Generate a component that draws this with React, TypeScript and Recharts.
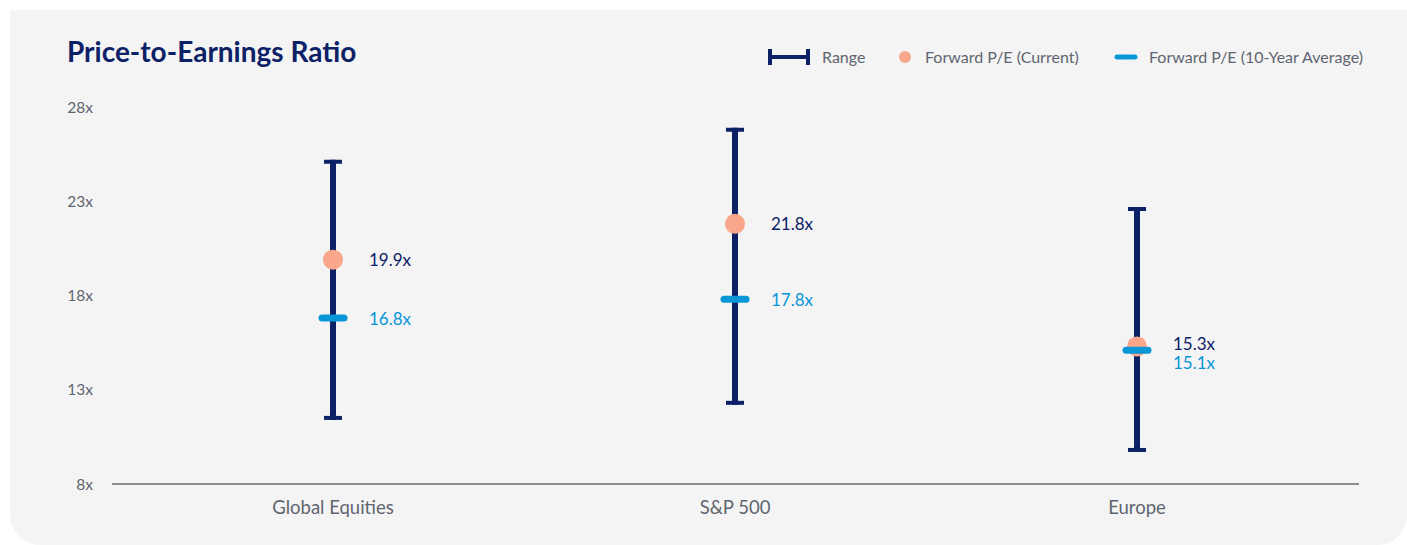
import React from 'react';
import { ComposedChart, Bar, Line, XAxis, YAxis } from 'recharts';

// ---------------------------------------------------------------------------
// Data
// ---------------------------------------------------------------------------

const categories = ['Global Equities', 'S&P 500', 'Europe'];
const rangeLow = [11.4, 12.2, 9.7];
const rangeHigh = [25.2, 26.9, 22.7];
const currentPE = [19.9, 21.8, 15.3];
const averagePE = [16.8, 17.8, 15.1];
const yTicks = [8, 13, 18, 23, 28];

const data = categories.map((name, i) => ({
  name,
  range: [rangeLow[i], rangeHigh[i]],
  current: currentPE[i],
  average: averagePE[i],
}));

// ---------------------------------------------------------------------------
// Colours
// ---------------------------------------------------------------------------

const NAVY = '#0c2166';
const SALMON = '#f9a68b';
const BLUE = '#0896d7';
const MUTED = '#5f6570';
const PANEL = '#f4f4f4';
const FONT = 'Lato, "Noto Sans", sans-serif';

const fmt = (v: number) => `${v.toFixed(1)}x`;

// when current and average sit close together, nudge the labels apart
function labelOffsets(i: number) {
  const close = Math.abs(currentPE[i] - averagePE[i]) < 1;
  return close ? { current: -3, average: 12 } : { current: 0, average: 0 };
}

// ---------------------------------------------------------------------------
// Marks
// ---------------------------------------------------------------------------

function RangeShape(props: any) {
  const { x, y, width, height } = props;
  const cx = x + width / 2;
  const top = Math.min(y, y + height);
  const bottom = Math.max(y, y + height);
  return (
    <g>
      <line x1={cx} x2={cx} y1={top} y2={bottom} stroke={NAVY} strokeWidth={6} />
      <line x1={cx - 9} x2={cx + 9} y1={top + 2} y2={top + 2} stroke={NAVY} strokeWidth={4} />
      <line x1={cx - 9} x2={cx + 9} y1={bottom - 2} y2={bottom - 2} stroke={NAVY} strokeWidth={4} />
    </g>
  );
}

function CurrentDot(props: any) {
  const { cx, cy, index, value } = props;
  if (cx == null || cy == null) return null;
  const off = labelOffsets(index).current;
  return (
    <g key={`cur-${index}`}>
      <circle cx={cx} cy={cy} r={10} fill={SALMON} />
      <text
        x={cx + 36}
        y={cy + off}
        dominantBaseline="central"
        fill={NAVY}
        fontSize={17}
        fontFamily={FONT}
      >
        {fmt(value)}
      </text>
    </g>
  );
}

function AverageDash(props: any) {
  const { cx, cy, index, value } = props;
  if (cx == null || cy == null) return null;
  const off = labelOffsets(index).average;
  return (
    <g key={`avg-${index}`}>
      <line
        x1={cx - 11}
        x2={cx + 11}
        y1={cy}
        y2={cy}
        stroke={BLUE}
        strokeWidth={7}
        strokeLinecap="round"
      />
      <text
        x={cx + 36}
        y={cy + off}
        dominantBaseline="central"
        fill={BLUE}
        fontSize={17}
        fontFamily={FONT}
      >
        {fmt(value)}
      </text>
    </g>
  );
}

// ---------------------------------------------------------------------------
// Legend
// ---------------------------------------------------------------------------

const legendText: React.CSSProperties = {
  position: 'absolute',
  top: 37,
  fontSize: 16,
  color: MUTED,
  fontFamily: FONT,
  lineHeight: '20px',
  whiteSpace: 'nowrap',
};

function Legend() {
  return (
    <>
      <svg style={{ position: 'absolute', left: 758, top: 38 }} width={42} height={18}>
        <line x1={0} x2={42} y1={9} y2={9} stroke={NAVY} strokeWidth={4} />
        <line x1={2} x2={2} y1={1} y2={17} stroke={NAVY} strokeWidth={4} />
        <line x1={40} x2={40} y1={1} y2={17} stroke={NAVY} strokeWidth={4} />
      </svg>
      <span style={{ ...legendText, left: 812 }}>Range</span>
      <svg style={{ position: 'absolute', left: 889, top: 41 }} width={12} height={12}>
        <circle cx={6} cy={6} r={6} fill={SALMON} />
      </svg>
      <span style={{ ...legendText, left: 915 }}>Forward P/E (Current)</span>
      <svg style={{ position: 'absolute', left: 1104, top: 42 }} width={24} height={10}>
        <line x1={3} x2={21} y1={5} y2={5} stroke={BLUE} strokeWidth={5} strokeLinecap="round" />
      </svg>
      <span style={{ ...legendText, left: 1139 }}>Forward P/E (10-Year Average)</span>
    </>
  );
}

// ---------------------------------------------------------------------------
// Component
// ---------------------------------------------------------------------------

export default function App() {
  return (
    <div
      style={{
        position: 'absolute',
        left: 10,
        top: 10,
        width: 1397,
        height: 535,
        background: PANEL,
        borderRadius: '0 0 30px 30px',
        overflow: 'hidden',
        fontFamily: FONT,
      }}
    >
      <div
        style={{
          position: 'absolute',
          left: 57,
          top: 24,
          fontSize: 28,
          fontWeight: 700,
          color: NAVY,
          fontFamily: FONT,
          lineHeight: '34px',
        }}
      >
        Price-to-Earnings Ratio
      </div>
      <Legend />
      <ComposedChart
        width={1397}
        height={535}
        data={data}
        margin={{ top: 97, right: 48, bottom: 31, left: 42 }}
        style={{ position: 'absolute', left: 0, top: 0 }}
      >
        <XAxis
          dataKey="name"
          height={30}
          padding={{ left: 20, right: 21 }}
          axisLine={{ stroke: '#8a8e95', strokeWidth: 2 }}
          tickLine={false}
          tickSize={0}
          tickMargin={17}
          tick={{ fill: MUTED, fontSize: 18.5, fontFamily: FONT }}
        />
        <YAxis
          type="number"
          width={60}
          domain={[8, 28]}
          ticks={yTicks}
          allowDataOverflow
          tickFormatter={(v: number) => `${v}x`}
          axisLine={false}
          tickLine={false}
          tickSize={0}
          tickMargin={19}
          tick={{ fill: MUTED, fontSize: 15.5, fontFamily: FONT }}
        />
        <Bar dataKey="range" barSize={18} shape={RangeShape} isAnimationActive={false} />
        <Line
          dataKey="current"
          stroke="none"
          dot={CurrentDot}
          activeDot={false}
          isAnimationActive={false}
        />
        <Line
          dataKey="average"
          stroke="none"
          dot={AverageDash}
          activeDot={false}
          isAnimationActive={false}
        />
      </ComposedChart>
    </div>
  );
}
